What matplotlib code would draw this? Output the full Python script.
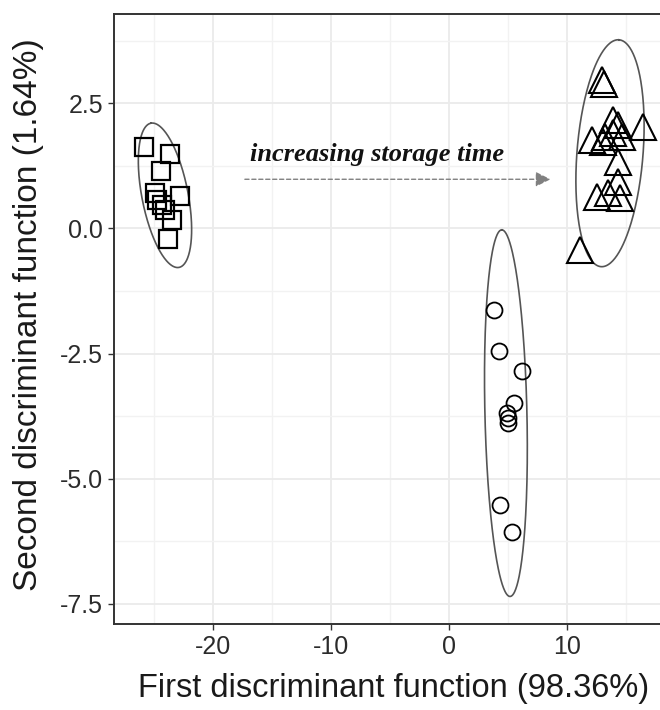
import numpy as np
import matplotlib
matplotlib.use("Agg")
import matplotlib.pyplot as plt

# ---- data ----
sq_x = [-25.85, -23.64, -24.41, -24.92, -22.80, -24.35, -24.07, -23.50, -23.79, -24.75]
sq_y = [1.63, 1.48, 1.14, 0.70, 0.64, 0.47, 0.37, 0.17, -0.22, 0.56]

ci_x = [3.84, 4.26, 6.16, 5.51, 4.89, 5.03, 5.03, 4.32, 5.31]
ci_y = [-1.63, -2.44, -2.84, -3.49, -3.68, -3.79, -3.88, -5.52, -6.07]

tr_x = [12.94, 13.14, 13.90, 14.32, 16.44, 12.09, 13.22, 13.92, 14.64, 13.05,
        14.35, 14.35, 12.52, 13.47, 14.49, 11.10]
tr_y = [2.96, 2.88, 2.16, 2.06, 2.03, 1.76, 1.83, 1.90, 1.83, 1.73,
        1.33, 0.93, 0.63, 0.70, 0.60, -0.43]

# ellipses: centre, major half-axis vector, minor half-axis vector (data units)
ell_sq = dict(c=(-24.07, 0.66), a=(-1.19, 1.44), b=(1.92, 0.088))
ell_ci = dict(c=(4.82, -3.69), a=(-0.352, 3.66), b=(1.78, 0.0094))
ell_tr = dict(c=(13.64, 1.50), a=(0.76, 2.265), b=(2.79, -0.052))

x_ticks = [-20, -10, 0, 10]
x_ticklabels = ["-20", "-10", "0", "10"]
y_ticks = [2.5, 0.0, -2.5, -5.0, -7.5]
y_ticklabels = ["2.5", "0.0", "-2.5", "-5.0", "-7.5"]
x_label = "First discriminant function (98.36%)"
y_label = "Second discriminant function (1.64%)"
arrow_text = "increasing storage time"
arrow_from = (-17.3, 0.98)
arrow_to = (8.6, 0.98)
text_pos = (-16.9, 1.48)

# ---- figure ----
W, H = 660, 710
fig = plt.figure(figsize=(W / 100, H / 100), dpi=100)
L, R, B, T = 114, 667, 624, 14
ax = fig.add_axes([L / W, (H - B) / H, (R - L) / W, (B - T) / H])
ax.set_xlim(-28.39, 18.47)
ax.set_ylim(-7.90, 4.28)

ax.set_axisbelow(True)
ax.set_xticks(x_ticks)
ax.set_xticklabels(x_ticklabels)
ax.set_yticks(y_ticks)
ax.set_yticklabels(y_ticklabels)
ax.set_xticks([-25, -15, -5, 5, 15], minor=True)
ax.set_yticks([3.75, 1.25, -1.25, -3.75, -6.25], minor=True)
ax.grid(True, which="major", color="#EBEBEB", linewidth=1.3)
ax.grid(True, which="minor", color="#F2F2F2", linewidth=1.0)

font = "Liberation Sans"
ax.tick_params(axis="both", which="major", length=4, width=1.0, color="#333333",
               labelsize=18, labelcolor="#2b2b2b", pad=4)
ax.tick_params(axis="both", which="minor", length=0)
for lab in ax.get_xticklabels() + ax.get_yticklabels():
    lab.set_fontfamily(font)
for s in ax.spines.values():
    s.set_color("#333333")
    s.set_linewidth(1.4)

ax.set_xlabel(x_label, fontsize=23.5, family=font, color="#1a1a1a")
ax.xaxis.set_label_coords((394 - L) / (R - L), -(688 - B) / (B - T))
ax.xaxis.label.set_va("center")
ax.set_ylabel(y_label, fontsize=24, family=font, color="#1a1a1a")
ax.yaxis.set_label_coords(-(L - 29) / (R - L), (B - 315) / (B - T))
ax.yaxis.label.set_va("center")

# ellipses
t = np.linspace(0, 2 * np.pi, 300)
for e in (ell_sq, ell_ci, ell_tr):
    ex = e["c"][0] + e["a"][0] * np.cos(t) + e["b"][0] * np.sin(t)
    ey = e["c"][1] + e["a"][1] * np.cos(t) + e["b"][1] * np.sin(t)
    ax.plot(ex, ey, color="#555555", linewidth=1.2, zorder=2)

ax.plot(sq_x, sq_y, linestyle="none", marker="s", markersize=13,
        markerfacecolor="none", markeredgecolor="black", markeredgewidth=1.6, zorder=3)
ax.plot(ci_x, ci_y, linestyle="none", marker="o", markersize=11.5,
        markerfacecolor="none", markeredgecolor="black", markeredgewidth=1.3, zorder=3)
ax.plot(tr_x, tr_y, linestyle="none", marker="^", markersize=19,
        markerfacecolor="none", markeredgecolor="black", markeredgewidth=1.5, zorder=3)

# arrow + text
ax.annotate("", xy=arrow_to, xytext=arrow_from,
            arrowprops=dict(arrowstyle="-|>,head_length=0.9,head_width=0.45",
                            linestyle=(0, (3, 2)), color="#808080", lw=1.0,
                            shrinkA=0, shrinkB=0), zorder=4)
ax.text(text_pos[0], text_pos[1], arrow_text, fontsize=19, family="Liberation Serif",
        fontweight="bold", fontstyle="italic", color="#111111", va="center", ha="left")

fig.savefig("out.png", dpi=100)
